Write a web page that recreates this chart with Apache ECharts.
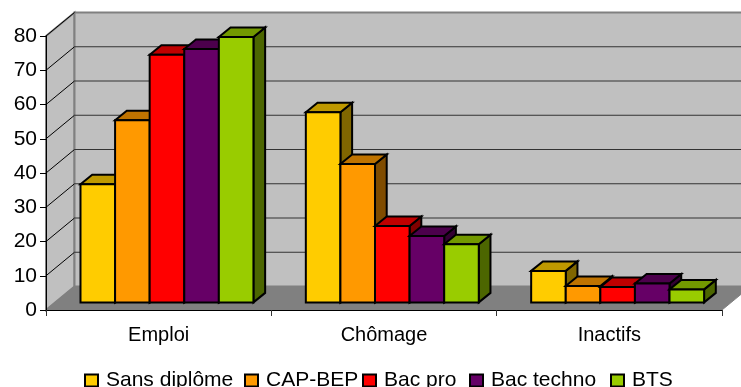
<!DOCTYPE html>
<html><head><meta charset="utf-8">
<style>html,body{margin:0;padding:0;background:#fff}#c{width:741px;height:387px}</style>
<script src="https://cdn.jsdelivr.net/npm/echarts@6/dist/echarts.min.js"></script>
</head><body><div id="c"></div>
<script>
const categories = ['Emploi','Chômage','Inactifs'];
const sansDiplome = [34.5,55.5,9.2];
const capBep = [53.2,40.4,4.8];
const bacPro = [72.3,22.3,4.5];
const bacTechno = [74,19.4,5.5];
const bts = [77.5,17,3.8];
const yTicks = [0,10,20,30,40,50,60,70,80];
const names = ['Sans diplôme','CAP-BEP','Bac pro','Bac techno','BTS'];
const values = [sansDiplome,capBep,bacPro,bacTechno,bts];
const front = ['#FFCC00','#FF9900','#FF0000','#660066','#99CC00'];
const tops = ['#BF9900','#BF7300','#BF0000','#4C004C','#739900'];
const sides = ['#806600','#804C00','#800000','#330033','#4C6600'];

const WALL_DX = 28.5, WALL_DY = 23.5;
const BAR_DX = 11.7, BAR_DY = 9.5, OFF_DX = 8.3, OFF_DY = 7.6, BAR_FRAC = 0.1535;
const FONT = '"Liberation Sans", Arial, sans-serif';
const legendLefts = [84,244,362,469,610];

function poly(points, fill, stroke, lw){
  return {type:'polygon', shape:{points}, style:{fill, stroke, lineWidth:lw, lineJoin:'miter'}};
}
function line(x1,y1,x2,y2,stroke,lw){
  return {type:'line', shape:{x1,y1,x2,y2}, style:{stroke, lineWidth:lw}};
}

function renderWall(params, api){
  const cs = params.coordSys;
  const y = api.coord([0, api.value(0)])[1];
  const L = cs.x, R = cs.x + cs.width, B = cs.y + cs.height, T = cs.y;
  const children = [];
  if (params.dataIndex === 0){
    children.push(poly([[L,T],[L+WALL_DX,T-WALL_DY],[L+WALL_DX,B-WALL_DY],[L,B]],'#C0C0C0','#808080',2));
    children.push(poly([[L+WALL_DX,T-WALL_DY],[R+WALL_DX,T-WALL_DY],[R+WALL_DX,B-WALL_DY],[L+WALL_DX,B-WALL_DY]],'#C0C0C0','#808080',2));
    children.push(poly([[L,B],[L+WALL_DX,B-WALL_DY],[R+WALL_DX,B-WALL_DY],[R,B]],'#808080','#808080',1));
  } else {
    children.push(line(L,y,L+WALL_DX,y-WALL_DY,'#000',1));
    if (api.value(0) < yTicks[yTicks.length-1]) children.push(line(L+WALL_DX,y-WALL_DY,R+WALL_DX,y-WALL_DY,'#333',1.2));
  }
  return {type:'group', children};
}

function makeBar(si){
  return function(params, api){
    const band = api.size([1,0])[0];
    const w = band * BAR_FRAC;
    const c = api.coord([api.value(0), 0]);
    const t = api.coord([api.value(0), api.value(1)]);
    const x0 = c[0] + OFF_DX + (si - 2.5) * w, x1 = x0 + w;
    const yb = c[1] - OFF_DY, yt = t[1] - OFF_DY;
    const sk = {stroke:'#000', lw:2};
    return {type:'group', children:[
      poly([[x1,yb],[x1+BAR_DX,yb-BAR_DY],[x1+BAR_DX,yt-BAR_DY],[x1,yt]],sides[si],sk.stroke,sk.lw),
      poly([[x0,yt],[x0+BAR_DX,yt-BAR_DY],[x1+BAR_DX,yt-BAR_DY],[x1,yt]],tops[si],sk.stroke,sk.lw),
      poly([[x0,yb],[x0,yt],[x1,yt],[x1,yb]],front[si],sk.stroke,sk.lw)
    ]};
  };
}

const series = [{
  type:'custom', name:'walls', coordinateSystem:'cartesian2d', silent:true, z:1,
  data:yTicks.map(v=>[v]), encode:{y:0}, renderItem:renderWall, clip:false
}].concat(names.map((n,si)=>({
  type:'custom', name:n, coordinateSystem:'cartesian2d', z:2+si, silent:true,
  itemStyle:{color:front[si]},
  data:values[si].map((v,i)=>[i,v]), encode:{x:0,y:1}, renderItem:makeBar(si), clip:false
})));

const chart = echarts.init(document.getElementById('c'), null, {renderer:'canvas'});
chart.setOption({
  animation:false,
  backgroundColor:'#fff',
  grid:{left:46, right:19, top:36, bottom:77, containLabel:false},
  xAxis:{type:'category', data:categories, boundaryGap:true, z:10,
    axisLine:{show:true, lineStyle:{color:'#000', width:1}},
    axisTick:{show:true, alignWithLabel:false, length:6, lineStyle:{color:'#333'}},
    axisLabel:{color:'#000', fontFamily:FONT, fontSize:20, margin:15},
    splitLine:{show:false}},
  yAxis:{type:'value', min:0, max:80, interval:10, z:10,
    axisLine:{show:true, lineStyle:{color:'#000', width:1}},
    axisTick:{show:true, length:6, lineStyle:{color:'#000'}},
    axisLabel:{color:'#000', fontFamily:FONT, fontSize:21, margin:9},
    splitLine:{show:false}},
  legend:names.map((n,i)=>({show:true, data:[n], left:legendLefts[i], top:370, icon:'rect', itemWidth:13, itemHeight:12, padding:0,
    itemStyle:{borderColor:'#000', borderWidth:2},
    textStyle:{color:'#000', fontFamily:FONT, fontSize:21, padding:[0,0,0,3]}})),
  series
});
</script></body></html>
